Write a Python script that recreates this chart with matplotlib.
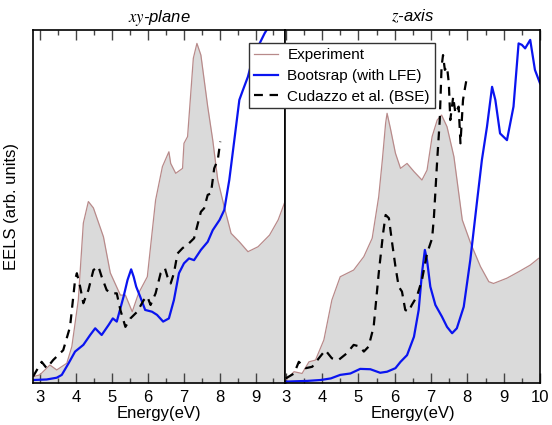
import matplotlib
matplotlib.use('Agg')
import matplotlib.pyplot as plt
from matplotlib.ticker import MultipleLocator

plt.rcParams['font.family'] = ['Liberation Sans', 'DejaVu Sans']
plt.rcParams['mathtext.fontset'] = 'stix'

# xy-plane
xy_exp_e = [2.81, 3.0, 3.28, 3.47, 3.75, 3.89, 4.07, 4.21, 4.35, 4.49, 4.77, 4.96, 5.24, 5.38,
            5.57, 5.75, 5.99, 6.22, 6.41, 6.59, 6.64, 6.78, 6.97, 7.01, 7.11, 7.27, 7.37, 7.48,
            7.67, 7.81, 7.95, 8.13, 8.32, 8.55, 8.79, 9.07, 9.39, 9.63, 9.82]
xy_exp = [1.8, 2.3, 5.1, 3.7, 5.6, 10.3, 23.5, 45.3, 51.4, 49.6, 41.4, 31.2, 24.9, 24.9,
          20.2, 25.5, 30.1, 51.8, 61.3, 65.5, 62.2, 59.4, 60.8, 67.9, 69.8, 92.0, 96.2, 92.9,
          78.3, 68.8, 57.5, 49.9, 42.4, 40.0, 37.2, 38.6, 41.9, 46.2, 51.4]

xy_boot_e = [2.81, 3.19, 3.47, 3.61, 3.8, 3.98, 4.21, 4.4, 4.54, 4.72, 4.91, 5.03, 5.14, 5.33,
             5.44, 5.54, 5.61, 5.68, 5.79, 5.93, 6.12, 6.26, 6.43, 6.59, 6.73, 6.87, 7.01, 7.15,
             7.29, 7.48, 7.67, 7.81, 8.0, 8.13, 8.27, 8.41, 8.55, 8.65, 8.79, 8.93, 9.07, 9.25,
             9.39, 9.58]
xy_boot = [0.85, 1.0, 1.5, 2.3, 5.6, 8.9, 10.8, 13.6, 15.5, 13.6, 16.4, 18.3, 17.4, 24.5,
           29.2, 32.2, 30.1, 27.3, 24.5, 20.7, 20.2, 19.3, 17.4, 18.3, 23.5, 31.1, 33.9, 35.3,
           34.8, 37.7, 40.0, 43.3, 46.2, 49.0, 57.5, 68.8, 80.2, 83.0, 86.8, 92.4, 95.3, 99.0,
           101.4, 105.7]

xy_bse_e = [2.81, 3.05, 3.19, 3.37, 3.65, 3.84, 3.98, 4.03, 4.12, 4.21, 4.35, 4.49, 4.63, 4.72,
            4.86, 5.0, 5.14, 5.24, 5.38, 5.52, 5.71, 5.89, 5.99, 6.08, 6.22, 6.36, 6.48, 6.55,
            6.64, 6.73, 6.83, 6.97, 7.15, 7.29, 7.48, 7.57, 7.67, 7.76, 7.85, 7.95, 8.02]
xy_bse = [1.8, 6.0, 4.2, 6.5, 9.3, 15.9, 29.2, 31.1, 27.3, 22.6, 26.3, 32.0, 33.0, 30.1,
          26.3, 25.4, 25.4, 20.7, 15.9, 18.3, 20.2, 23.5, 24.5, 22.1, 25.4, 31.1, 32.5, 30.1,
          28.2, 31.1, 36.7, 38.2, 39.6, 41.0, 48.5, 49.5, 53.3, 53.7, 60.8, 63.2, 68.4]

# z-axis
z_exp_e = [3.0, 3.23, 3.45, 3.64, 3.82, 4.05, 4.27, 4.5, 4.87, 5.15, 5.38, 5.56, 5.66, 5.75,
           5.79, 5.88, 6.02, 6.16, 6.34, 6.53, 6.75, 6.89, 7.03, 7.17, 7.29, 7.44, 7.63, 7.86,
           8.09, 8.36, 8.59, 8.72, 9.09, 9.41, 9.73, 9.96]
z_exp = [0.85, 3.2, 2.7, 6.0, 6.5, 12.2, 23.5, 30.1, 32.0, 35.8, 41.0, 52.8, 63.2, 73.6,
         76.4, 72.2, 65.1, 60.8, 62.2, 59.9, 57.5, 60.3, 69.8, 74.5, 75.9, 72.6, 64.1, 46.2,
         39.6, 33.0, 28.7, 28.2, 29.7, 31.5, 33.4, 35.3]

z_boot_e = [3.0, 3.6, 3.96, 4.24, 4.5, 4.78, 5.05, 5.33, 5.6, 5.79, 6.02, 6.16, 6.34, 6.53,
            6.66, 6.75, 6.83, 6.89, 6.98, 7.12, 7.3, 7.44, 7.58, 7.71, 7.9, 8.08, 8.27, 8.4,
            8.54, 8.68, 8.77, 8.9, 9.09, 9.27, 9.41, 9.5, 9.59, 9.73, 9.86, 10.0]
z_boot = [0.4, 0.6, 0.85, 1.3, 2.3, 2.7, 4.0, 3.9, 2.9, 3.2, 4.2, 6.0, 7.9, 13.1,
          20.7, 31.1, 37.7, 34.8, 27.3, 22.1, 18.8, 15.9, 14.1, 15.5, 21.6, 34.8, 51.8, 63.2,
          72.6, 83.9, 80.2, 70.7, 68.8, 78.3, 96.2, 95.8, 94.8, 97.2, 88.7, 84.9]

z_bse_e = [3.0, 3.23, 3.36, 3.55, 3.73, 3.91, 4.09, 4.27, 4.45, 4.68, 4.87, 5.05, 5.15, 5.28,
           5.42, 5.56, 5.68, 5.75, 5.84, 5.93, 6.02, 6.11, 6.2, 6.29, 6.38, 6.47, 6.61, 6.75,
           6.89, 7.03, 7.08, 7.17, 7.24, 7.29, 7.33, 7.38, 7.44, 7.49, 7.53, 7.61, 7.67, 7.76,
           7.81, 7.88, 7.94, 8.0]
z_bse = [1.3, 2.7, 6.0, 4.2, 4.6, 7.0, 9.3, 7.0, 6.5, 8.4, 10.8, 10.3, 8.9, 10.3,
         15.9, 31.1, 42.4, 47.6, 46.7, 39.6, 33.0, 27.3, 25.9, 20.7, 20.2, 22.1, 24.5, 29.2,
         36.7, 41.0, 47.1, 63.2, 74.5, 89.6, 92.9, 88.7, 89.6, 84.9, 74.5, 81.1, 76.4, 78.3,
         67.9, 80.2, 83.9, 87.3]

fig = plt.figure(figsize=(5.52, 4.25), dpi=100)
ax1 = fig.add_axes([0.0598, 0.0988, 0.4565, 0.8306])
ax2 = fig.add_axes([0.5163, 0.0988, 0.462, 0.8306])

panels = [(ax1, xy_exp_e, xy_exp, xy_boot_e, xy_boot, xy_bse_e, xy_bse, (2.81, 9.82), r'$xy$-plane'),
          (ax2, z_exp_e, z_exp, z_boot_e, z_boot, z_bse_e, z_bse, (2.98, 10.0), r'$z$-axis')]

for ax, ee, ev, be, bv, ce, cv, xl, title in panels:
    ax.fill_between(ee, ev, 0, color='#dadada', lw=0)
    ax.plot(ee, ev, color='#b88a8a', lw=0.9, label='Experiment')
    ax.plot(be, bv, color='#0a14f0', lw=1.6, solid_joinstyle='round', label='Bootsrap (with LFE)')
    ax.plot(ce, cv, color='black', lw=1.6, ls=(0, (4, 3)), dash_joinstyle='round',
            label='Cudazzo et al. (BSE)')
    ax.set_xlim(*xl)
    ax.set_ylim(0, 100)
    ax.set_yticks([])
    ax.xaxis.set_major_locator(MultipleLocator(1))
    ax.xaxis.set_minor_locator(MultipleLocator(0.5))
    ax.tick_params(axis='x', which='both', direction='in', top=True, bottom=True,
                   labelsize=12, color='#444444', width=1)
    ax.tick_params(axis='x', which='major', length=7, pad=5)
    ax.tick_params(axis='x', which='minor', length=3.5)
    for s in ax.spines.values():
        s.set_linewidth(1.2)
    ax.set_xlabel('Energy(eV)', fontsize=12, labelpad=1)
    ax.set_title(title, fontsize=12, style='italic', pad=6)

ax1.set_ylabel('EELS (arb. units)', fontsize=12, labelpad=10)

ax2.legend(loc='upper left', bbox_to_anchor=(-0.14, 0.962), fontsize=11, frameon=True,
           fancybox=False, edgecolor='#333333', framealpha=1, handlelength=1.6,
           borderpad=0.3, labelspacing=0.45, handletextpad=0.6, borderaxespad=0)

fig.savefig('out.png', dpi=100)
